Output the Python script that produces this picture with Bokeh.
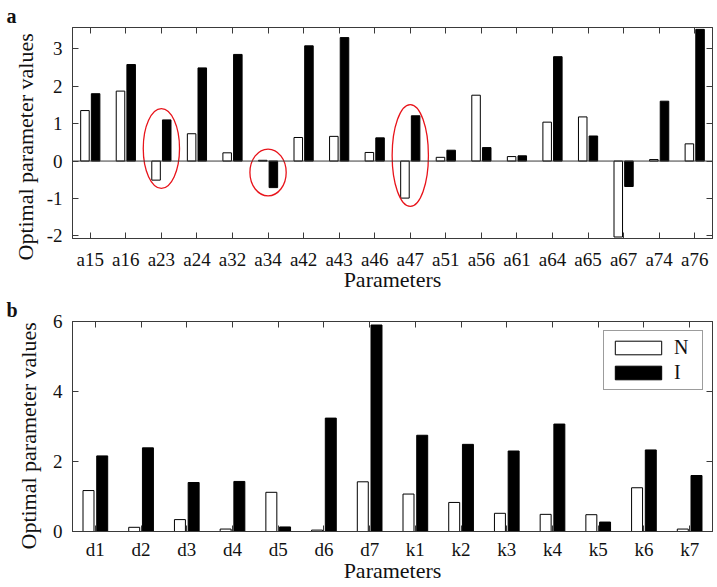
from bokeh.plotting import figure
from bokeh.models import (FactorRange, Range1d, FixedTicker, LinearAxis, CategoricalAxis,
                          Span, Title, ColumnDataSource)
from bokeh.transform import dodge
from bokeh.layouts import column
from bokeh.embed import file_html
from bokeh.resources import INLINE

# ---------------- data ----------------
params_a = ["a15", "a16", "a23", "a24", "a32", "a34", "a42", "a43", "a46",
            "a47", "a51", "a56", "a61", "a64", "a65", "a67", "a74", "a76"]
n_a = [1.35, 1.87, -0.51, 0.73, 0.22, 0.02, 0.63, 0.66, 0.23,
       -0.99, 0.10, 1.76, 0.12, 1.04, 1.18, -2.03, 0.04, 0.46]
i_a = [1.80, 2.58, 1.10, 2.49, 2.85, -0.71, 3.08, 3.30, 0.62,
       1.21, 0.29, 0.36, 0.14, 2.79, 0.67, -0.68, 1.60, 3.52]

params_b = ["d1", "d2", "d3", "d4", "d5", "d6", "d7",
            "k1", "k2", "k3", "k4", "k5", "k6", "k7"]
n_b = [1.17, 0.12, 0.34, 0.07, 1.12, 0.04, 1.42,
       1.07, 0.83, 0.52, 0.49, 0.48, 1.25, 0.07]
i_b = [2.16, 2.39, 1.40, 1.43, 0.13, 3.24, 5.90,
       2.75, 2.49, 2.30, 3.07, 0.27, 2.33, 1.60]

highlighted = ["a23", "a34", "a47"]
series_names = ["N", "I"]
yticks_a = [-2, -1, 0, 1, 2, 3]
yticks_b = [0, 2, 4, 6]
yrange_a = (-2.07, 3.57)
yrange_b = (0, 6)

FONT = "Liberation Serif"
AX = "#3a3a3a"
TXT = "#111111"


def style_axis(ax, show_labels=True):
    ax.axis_line_color = AX
    ax.axis_line_width = 1
    ax.major_tick_in = 6
    ax.major_tick_out = 0
    ax.major_tick_line_color = AX
    ax.major_tick_line_width = 1
    ax.minor_tick_line_color = None
    ax.major_label_text_font = FONT
    ax.major_label_text_color = TXT
    ax.major_label_text_font_size = "19px"
    ax.axis_label_text_font = FONT
    ax.axis_label_text_font_style = "normal"
    ax.axis_label_text_font_size = "22px"
    ax.axis_label_text_color = TXT
    if not show_labels:
        ax.major_label_text_color = None
        ax.major_label_text_alpha = 0
        ax.major_label_standoff = 0


def make_panel(cats, n, i, yr, yticks, tag, frame_h, top, bottom, legend,
               xstand, xlab_stand, tag_standoff, ylab_standoff, ylab_offset):
    p = figure(x_range=FactorRange(*cats), y_range=Range1d(*yr),
               frame_width=640, frame_height=frame_h,
               min_border_left=72, min_border_right=5,
               min_border_top=top, min_border_bottom=bottom,
               output_backend="svg", toolbar_location=None)
    p.xgrid.grid_line_color = None
    p.ygrid.grid_line_color = None
    p.outline_line_color = AX
    p.background_fill_color = "white"
    p.border_fill_color = "white"

    src = ColumnDataSource(dict(cat=cats, n=n, i=i))
    kw_n = dict(legend_label=series_names[0]) if legend else {}
    kw_i = dict(legend_label=series_names[1]) if legend else {}
    p.vbar(x=dodge("cat", -0.15, range=p.x_range), top="n", bottom=0, width=0.24,
           source=src, fill_color="white", line_color="black", line_width=1, **kw_n)
    p.vbar(x=dodge("cat", 0.15, range=p.x_range), top="i", bottom=0, width=0.24,
           source=src, fill_color="black", line_color="black", line_width=1, **kw_i)

    xa = p.xaxis[0]
    style_axis(xa)
    xa.axis_label = "Parameters"
    xa.major_label_standoff = xstand
    xa.axis_label_standoff = xlab_stand
    ya = p.yaxis[0]
    style_axis(ya)
    ya.ticker = FixedTicker(ticks=yticks)
    ya.major_label_overrides = {t: str(t) for t in yticks}
    ya.major_label_standoff = 10

    # y axis title, starting a little below the frame bottom as in the original
    p.add_layout(Title(text="Optimal parameter values", align="left",
                       offset=ylab_offset, standoff=ylab_standoff, text_font=FONT,
                       text_font_style="normal", text_font_size="22px",
                       text_color=TXT), "left")

    top_ax = CategoricalAxis()
    style_axis(top_ax, False)
    p.add_layout(top_ax, "above")
    right_ax = LinearAxis(ticker=FixedTicker(ticks=yticks))
    style_axis(right_ax, False)
    p.add_layout(right_ax, "right")

    # panel tag ("a" / "b") as a left-aligned title pulled to the page edge
    t = Title(text=tag, align="left", offset=-66, standoff=tag_standoff,
              text_font=FONT, text_font_style="bold", text_font_size="20px",
              text_color=TXT)
    p.add_layout(t, "above")
    return p


pa = make_panel(params_a, n_a, i_a, yrange_a, yticks_a, "a", 211, 27, 57, False,
                10, -6, 2, 11, -22)
pa.add_layout(Span(location=0, dimension="width", line_color=AX, line_width=1))

# ellipses around highlighted parameters
ec, eyc, eh = [], [], []
for c in highlighted:
    k = params_a.index(c)
    lo = min(n_a[k], i_a[k], 0) - 0.22
    hi = max(n_a[k], i_a[k], 0) + 0.3
    ec.append(c)
    eyc.append((lo + hi) / 2)
    eh.append(hi - lo)
pa.ellipse(x="cat", y="yc", width=1.02, height="h",
           source=ColumnDataSource(dict(cat=ec, yc=eyc, h=eh)),
           fill_color=None, line_color="#e8141b", line_width=1.3)

pb = make_panel(params_b, n_b, i_b, yrange_b, yticks_b, "b", 210, 26, 56, True,
                7, -5, 1, 17, -18)
lg = pb.legend[0]
lg.location = "top_right"
lg.margin = 9
lg.padding = 5
lg.spacing = 2
lg.glyph_width = 58
lg.glyph_height = 17
lg.label_height = 17
lg.label_width = 23
lg.label_standoff = 7
lg.label_text_font = FONT
lg.label_text_font_size = "20px"
lg.label_text_color = TXT
lg.border_line_color = AX
lg.border_line_width = 1
lg.background_fill_alpha = 1

layout = column(pa, pb)
open("out.html", "w").write(file_html(layout, INLINE))
